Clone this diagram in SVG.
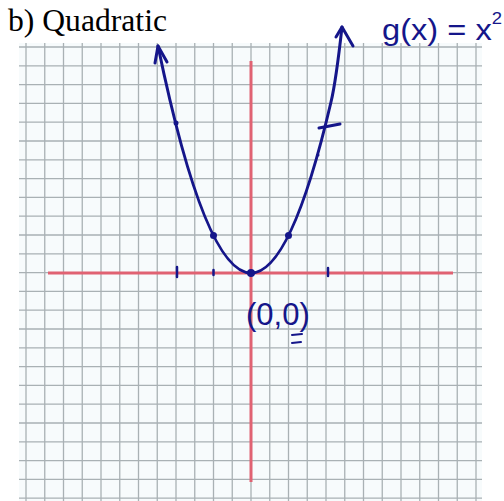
<svg xmlns="http://www.w3.org/2000/svg" width="504" height="501" viewBox="0 0 504 501">
<style>
.grid line{stroke:#a9b1b4;stroke-width:1.3}
.axis{stroke:#e06272;stroke-width:3;fill:none}
.ink{stroke:#15168a;stroke-width:3;fill:none;stroke-linecap:round;stroke-linejoin:round}
.dot{fill:#15168a}
.hand{font-family:"Liberation Sans",Arial,sans-serif;fill:#15168a}
</style>
<rect width="504" height="501" fill="#ffffff"/>
<text x="8" y="31" font-family="'Liberation Serif','Times New Roman',serif" font-size="31" textLength="159" lengthAdjust="spacingAndGlyphs" fill="#000">b) Quadratic</text>
<g id="grid" class="grid">
<rect x="19" y="43" width="463" height="458" fill="#f7fbfc" stroke="none"/>
<line x1="26" y1="43" x2="26" y2="501"/><line x1="44.75" y1="43" x2="44.75" y2="501"/><line x1="63.5" y1="43" x2="63.5" y2="501"/><line x1="82.25" y1="43" x2="82.25" y2="501"/><line x1="101" y1="43" x2="101" y2="501"/><line x1="119.75" y1="43" x2="119.75" y2="501"/><line x1="138.5" y1="43" x2="138.5" y2="501"/><line x1="157.25" y1="43" x2="157.25" y2="501"/><line x1="176" y1="43" x2="176" y2="501"/><line x1="194.75" y1="43" x2="194.75" y2="501"/><line x1="213.5" y1="43" x2="213.5" y2="501"/><line x1="232.25" y1="43" x2="232.25" y2="501"/><line x1="251" y1="43" x2="251" y2="501"/><line x1="269.75" y1="43" x2="269.75" y2="501"/><line x1="288.5" y1="43" x2="288.5" y2="501"/><line x1="307.25" y1="43" x2="307.25" y2="501"/><line x1="326" y1="43" x2="326" y2="501"/><line x1="344.75" y1="43" x2="344.75" y2="501"/><line x1="363.5" y1="43" x2="363.5" y2="501"/><line x1="382.25" y1="43" x2="382.25" y2="501"/><line x1="401" y1="43" x2="401" y2="501"/><line x1="419.75" y1="43" x2="419.75" y2="501"/><line x1="438.5" y1="43" x2="438.5" y2="501"/><line x1="457.25" y1="43" x2="457.25" y2="501"/><line x1="476" y1="43" x2="476" y2="501"/>
<line x1="19" y1="47" x2="482" y2="47"/><line x1="19" y1="65.8" x2="482" y2="65.8"/><line x1="19" y1="84.6" x2="482" y2="84.6"/><line x1="19" y1="103.4" x2="482" y2="103.4"/><line x1="19" y1="122.2" x2="482" y2="122.2"/><line x1="19" y1="141" x2="482" y2="141"/><line x1="19" y1="159.8" x2="482" y2="159.8"/><line x1="19" y1="178.6" x2="482" y2="178.6"/><line x1="19" y1="197.4" x2="482" y2="197.4"/><line x1="19" y1="216.2" x2="482" y2="216.2"/><line x1="19" y1="235" x2="482" y2="235"/><line x1="19" y1="253.8" x2="482" y2="253.8"/><line x1="19" y1="272.6" x2="482" y2="272.6"/><line x1="19" y1="291.4" x2="482" y2="291.4"/><line x1="19" y1="310.2" x2="482" y2="310.2"/><line x1="19" y1="329" x2="482" y2="329"/><line x1="19" y1="347.8" x2="482" y2="347.8"/><line x1="19" y1="366.6" x2="482" y2="366.6"/><line x1="19" y1="385.4" x2="482" y2="385.4"/><line x1="19" y1="404.2" x2="482" y2="404.2"/><line x1="19" y1="423" x2="482" y2="423"/><line x1="19" y1="441.8" x2="482" y2="441.8"/><line x1="19" y1="460.6" x2="482" y2="460.6"/><line x1="19" y1="479.4" x2="482" y2="479.4"/><line x1="19" y1="498.2" x2="482" y2="498.2"/>
</g>
<g id="axes">
<line class="axis" x1="48" y1="273" x2="453" y2="273"/>
<line class="axis" x1="251" y1="61" x2="251" y2="482"/>
</g>
<g id="ticks" class="ink" style="stroke-width:2.5">
<line x1="177" y1="267" x2="177" y2="277"/>
<line x1="213.5" y1="270" x2="213.5" y2="275"/>
<line x1="328" y1="268" x2="328" y2="276"/>
</g>
<g id="curve">
<path class="ink" d="M158,46 Q205,273 251,273 Q291,273 331,102 C336,81 340,45 342,27"/>
<path class="ink" d="M155,63 L158,46 L167,62"/>
<path class="ink" d="M336,37 L342,27 L353,46"/>
<line class="ink" x1="319" y1="128" x2="340" y2="124"/>
</g>
<g id="points">
<circle class="dot" cx="251" cy="273" r="4"/>
<circle class="dot" cx="213.5" cy="235.5" r="3.5"/>
<circle class="dot" cx="288.5" cy="235.5" r="3.5"/>
<circle class="dot" cx="176" cy="123" r="2.5"/>
<circle class="dot" cx="318" cy="155" r="1.5"/>
</g>
<g id="labels">
<text class="hand" x="382" y="40" font-size="30" textLength="120" lengthAdjust="spacingAndGlyphs">g(x) = x<tspan font-size="17" dy="-16">2</tspan></text>
<text class="hand" x="246" y="325" font-size="31">(0,0)</text>
<path class="ink" style="stroke-width:2" d="M292,335 L302,334 M292,343 L301,342"/>
</g>
</svg>
